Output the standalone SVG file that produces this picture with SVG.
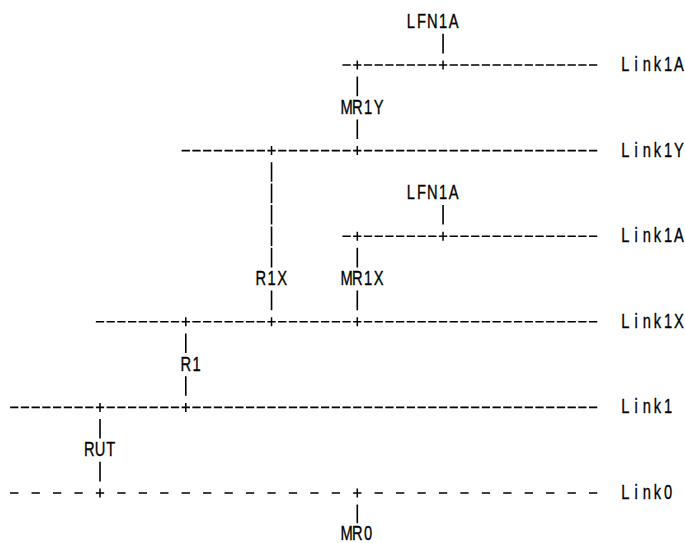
<svg xmlns="http://www.w3.org/2000/svg" width="685" height="543" viewBox="0 0 685 543">
<style>
  .bg { fill: #ffffff; }
  .lbl { font-family: "Liberation Sans", Arial, sans-serif; font-size: 21px; fill: #000; stroke: #000; stroke-width: 0.35; text-anchor: middle; }
  .link { stroke: #000; stroke-width: 1.6; fill: none; stroke-dasharray: 8.3 2.42; }
  .link0 { stroke: #000; stroke-width: 1.6; fill: none; stroke-dasharray: 8.3 13.14; }
  .bar { stroke: #000; stroke-width: 1.6; fill: none; }
  .tick { stroke: #000; stroke-width: 1.5; fill: none; }
</style>
<rect class="bg" x="0" y="0" width="685" height="543"/>

<!-- links (horizontal network segments) -->
<g id="link-Link1A-top">
  <path class="link" d="M342.42 65 H597.3"/>
  <text class="lbl" transform="scale(0.7 1)" x="893.29 908.60 923.91 939.23 954.54 969.86" y="71">Link1A</text>
</g>
<g id="link-Link1Y">
  <path class="link" d="M181.62 150.6 H597.3"/>
  <text class="lbl" transform="scale(0.7 1)" x="893.29 908.60 923.91 939.23 954.54 969.86" y="156.6">Link1Y</text>
</g>
<g id="link-Link1A-lower">
  <path class="link" d="M342.42 236.2 H597.3"/>
  <text class="lbl" transform="scale(0.7 1)" x="893.29 908.60 923.91 939.23 954.54 969.86" y="242.2">Link1A</text>
</g>
<g id="link-Link1X">
  <path class="link" d="M95.86 321.8 H597.3"/>
  <text class="lbl" transform="scale(0.7 1)" x="893.29 908.60 923.91 939.23 954.54 969.86" y="327.8">Link1X</text>
</g>
<g id="link-Link1">
  <path class="link" d="M10.1 407.4 H597.3"/>
  <text class="lbl" transform="scale(0.7 1)" x="893.29 908.60 923.91 939.23 954.54" y="413.4">Link1</text>
</g>
<g id="link-Link0">
  <path class="link0" d="M10.1 493 H597.3"/>
  <text class="lbl" transform="scale(0.7 1)" x="893.29 908.60 923.91 939.23 954.54" y="499">Link0</text>
</g>

<!-- nodes -->
<g id="node-LFN1A-top">
  <text class="lbl" transform="scale(0.7 1)" x="587.00 602.31 617.63 632.94 648.26" y="28.2">LFN1A</text>
</g>
<g id="node-MR1Y">
  <text class="lbl" transform="scale(0.7 1)" x="495.11 510.43 525.74 541.06" y="113.8">MR1Y</text>
</g>
<g id="node-LFN1A-lower">
  <text class="lbl" transform="scale(0.7 1)" x="587.00 602.31 617.63 632.94 648.26" y="199.4">LFN1A</text>
</g>
<g id="node-R1X">
  <text class="lbl" transform="scale(0.7 1)" x="372.60 387.91 403.23" y="285">R1X</text>
</g>
<g id="node-MR1X">
  <text class="lbl" transform="scale(0.7 1)" x="495.11 510.43 525.74 541.06" y="285">MR1X</text>
</g>
<g id="node-R1">
  <text class="lbl" transform="scale(0.7 1)" x="265.40 280.71" y="370.6">R1</text>
</g>
<g id="node-RUT">
  <text class="lbl" transform="scale(0.7 1)" x="127.57 142.89 158.20" y="456.2">RUT</text>
</g>
<g id="node-MR0">
  <text class="lbl" transform="scale(0.7 1)" x="495.11 510.43 525.74" y="539.6">MR0</text>
</g>

<!-- connectors -->
<g id="connectors">
  <path class="tick" d="M357.3 60.5 V69.5 M443.06 60.5 V69.5
                        M271.54 146.1 V155.1 M357.3 146.1 V155.1
                        M357.3 231.7 V240.7 M443.06 231.7 V240.7
                        M185.78 317.3 V326.3 M271.54 317.3 V326.3 M357.3 317.3 V326.3
                        M100.02 402.9 V411.9 M185.78 402.9 V411.9
                        M100.02 488.5 V497.5 M357.3 488.5 V497.5"/>
  <path class="bar" d="M443.06 33.8 V53.4 M443.06 205 V224.6
                       M357.3 76.6 V96.2 M357.3 119.4 V139
                       M357.3 247.8 V267.4 M357.3 290.6 V310.2
                       M357.3 504.6 V523.2
                       M271.54 162.2 V181.8 M271.54 183.6 V203.2 M271.54 205 V224.6 M271.54 226.4 V246 M271.54 247.8 V267.4
                       M271.54 290.6 V310.2
                       M185.78 333.4 V353 M185.78 376.2 V395.8
                       M100.02 419 V438.6 M100.02 461.8 V481.4"/>
</g>
</svg>
